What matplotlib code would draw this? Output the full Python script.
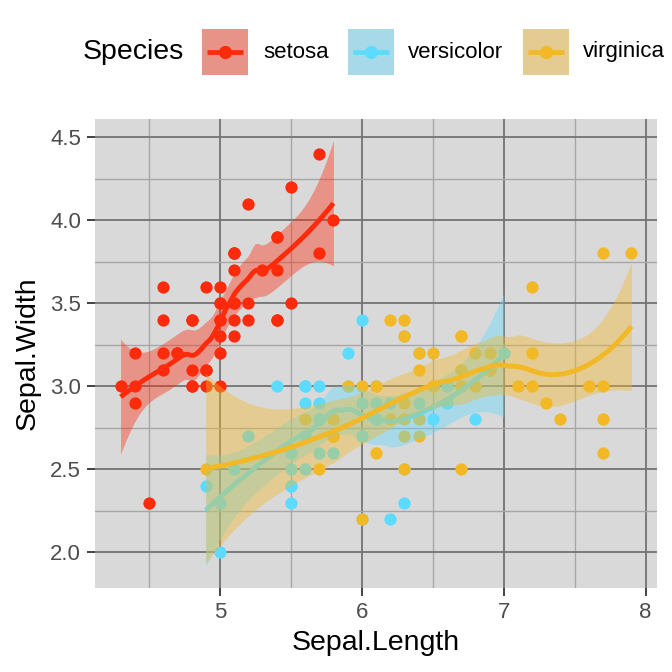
import matplotlib
matplotlib.use("Agg")
import matplotlib.pyplot as plt
from matplotlib.patches import Rectangle
from matplotlib.lines import Line2D
import numpy as np

plt.rcParams['font.family'] = ['Liberation Sans', 'DejaVu Sans']

# iris sepal measurements, by species
species = ["setosa", "versicolor", "virginica"]
colors = ["#FD2B0C", "#5CDBFF", "#F3B825"]

setosa_len = [5.1, 4.9, 4.7, 4.6, 5.0, 5.4, 4.6, 5.0, 4.4, 4.9, 5.4, 4.8, 4.8, 4.3, 5.8, 5.7, 5.4,
              5.1, 5.7, 5.1, 5.4, 5.1, 4.6, 5.1, 4.8, 5.0, 5.0, 5.2, 5.2, 4.7, 4.8, 5.4, 5.2, 5.5,
              4.9, 5.0, 5.5, 4.9, 4.4, 5.1, 5.0, 4.5, 4.4, 5.0, 5.1, 4.8, 5.1, 4.6, 5.3, 5.0]
setosa_wid = [3.5, 3.0, 3.2, 3.1, 3.6, 3.9, 3.4, 3.4, 2.9, 3.1, 3.7, 3.4, 3.0, 3.0, 4.0, 4.4, 3.9,
              3.5, 3.8, 3.8, 3.4, 3.7, 3.6, 3.3, 3.4, 3.0, 3.4, 3.5, 3.4, 3.2, 3.1, 3.4, 4.1, 4.2,
              3.1, 3.2, 3.5, 3.6, 3.0, 3.4, 3.5, 2.3, 3.2, 3.5, 3.8, 3.0, 3.8, 3.2, 3.7, 3.3]
versicolor_len = [7.0, 6.4, 6.9, 5.5, 6.5, 5.7, 6.3, 4.9, 6.6, 5.2, 5.0, 5.9, 6.0, 6.1, 5.6, 6.7, 5.6,
                  5.8, 6.2, 5.6, 5.9, 6.1, 6.3, 6.1, 6.4, 6.6, 6.8, 6.7, 6.0, 5.7, 5.5, 5.5, 5.8, 6.0,
                  5.4, 6.0, 6.7, 6.3, 5.6, 5.5, 5.5, 6.1, 5.8, 5.0, 5.6, 5.7, 5.7, 6.2, 5.1, 5.7]
versicolor_wid = [3.2, 3.2, 3.1, 2.3, 2.8, 2.8, 3.3, 2.4, 2.9, 2.7, 2.0, 3.0, 2.2, 2.9, 2.9, 3.1, 3.0,
                  2.7, 2.2, 2.5, 3.2, 2.8, 2.5, 2.8, 2.9, 3.0, 2.8, 3.0, 2.9, 2.6, 2.4, 2.4, 2.7, 2.7,
                  3.0, 3.4, 3.1, 2.3, 3.0, 2.5, 2.6, 3.0, 2.6, 2.3, 2.7, 3.0, 2.9, 2.9, 2.5, 2.8]
virginica_len = [6.3, 5.8, 7.1, 6.3, 6.5, 7.6, 4.9, 7.3, 6.7, 7.2, 6.5, 6.4, 6.8, 5.7, 5.8, 6.4, 6.5,
                 7.7, 7.7, 6.0, 6.9, 5.6, 7.7, 6.3, 6.7, 7.2, 6.2, 6.1, 6.4, 7.2, 7.4, 7.9, 6.4, 6.3,
                 6.1, 7.7, 6.3, 6.4, 6.0, 6.9, 6.7, 6.9, 5.8, 6.8, 6.7, 6.7, 6.3, 6.5, 6.2, 5.9]
virginica_wid = [3.3, 2.7, 3.0, 2.9, 3.0, 3.0, 2.5, 2.9, 2.5, 3.6, 3.2, 2.7, 3.0, 2.5, 2.8, 3.2, 3.0,
                 3.8, 2.6, 2.2, 3.2, 2.8, 2.8, 2.7, 3.3, 3.2, 2.8, 3.0, 2.8, 3.0, 2.8, 3.8, 2.8, 2.8,
                 2.6, 3.0, 3.4, 3.1, 3.0, 3.1, 3.1, 3.1, 2.7, 3.2, 3.3, 3.0, 2.5, 3.0, 3.4, 3.0]

lengths = [setosa_len, versicolor_len, virginica_len]
widths = [setosa_wid, versicolor_wid, virginica_wid]


def loess_operator(x, x0, span=0.75):
    # local quadratic fit with tricube weights, returns weights on y
    n = len(x)
    q = int(np.floor(n * span))
    d = np.abs(x - x0)
    h = np.sort(d)[q - 1]
    w = np.clip(1 - (d / h) ** 3, 0, None) ** 3
    X = np.column_stack([np.ones(n), x - x0, (x - x0) ** 2])
    XtW = X.T * w
    return np.linalg.solve(XtW @ X, XtW)[0]


def loess_smooth(x, y, n_out=80):
    x = np.asarray(x, float)
    y = np.asarray(y, float)
    xs = np.linspace(x.min(), x.max(), n_out)
    L = np.array([loess_operator(x, v) for v in xs])
    Ld = np.array([loess_operator(x, v) for v in x])
    fit = L @ y
    resid = y - Ld @ y
    M = np.eye(len(x)) - Ld
    MM = M.T @ M
    one_delta = np.trace(MM)
    two_delta = np.trace(MM @ MM)
    sigma = np.sqrt(np.sum(resid ** 2) / one_delta)
    se = sigma * np.sqrt(np.sum(L ** 2, axis=1))
    df = one_delta ** 2 / two_delta
    z = 1.959964
    t = z + (z ** 3 + z) / (4 * df) + (5 * z ** 5 + 16 * z ** 3 + 3 * z) / (96 * df ** 2)
    return xs, fit, fit - t * se, fit + t * se


fig = plt.figure(figsize=(6.72, 6.72), dpi=100)
ax = fig.add_axes([95 / 672, 84 / 672, 562 / 672, 469 / 672])
ax.set_facecolor("#D9D9D9")

# points first, smoothers on top
for i in range(3):
    ax.scatter(lengths[i], widths[i], s=78, color=colors[i], linewidths=0, zorder=2)

for i in range(3):
    xs, fit, lo, hi = loess_smooth(lengths[i], widths[i])
    ax.fill_between(xs, lo, hi, color=colors[i], alpha=0.4, linewidth=0, zorder=3 + 2 * i)
    ax.plot(xs, fit, color=colors[i], lw=3.5, zorder=4 + 2 * i, solid_capstyle="butt")

ax.set_xlim(4.12, 8.08)
ax.set_ylim(1.785, 4.61)
ax.set_xticks([5, 6, 7, 8])
ax.set_yticks([2.0, 2.5, 3.0, 3.5, 4.0, 4.5])
ax.set_yticklabels(["2.0", "2.5", "3.0", "3.5", "4.0", "4.5"])
ax.set_xticks([4.5, 5.5, 6.5, 7.5], minor=True)
ax.set_yticks([2.25, 2.75, 3.25, 3.75, 4.25], minor=True)
ax.grid(which="major", color="#737373", lw=1.3, zorder=1)
ax.grid(which="minor", color="#A6A6A6", lw=1.0, zorder=1)
ax.set_axisbelow(True)
ax.tick_params(which="major", length=6, width=1.3, color="#333333",
               labelsize=16, labelcolor="#4D4D4D", pad=4)
ax.tick_params(which="minor", length=0)
for s in ax.spines.values():
    s.set_visible(False)

ax.set_xlabel("Sepal.Length", fontsize=20.5, labelpad=5)
ax.set_ylabel("Sepal.Width", fontsize=20.5, labelpad=7)

# legend on top, drawn in pixel positions of the figure
def fx(px):
    return px / 672


def fy(py):
    return 1 - py / 672


fig.text(fx(83), fy(52), "Species", fontsize=20.5, va="center", ha="left")
box_left = [202, 348, 523]
text_left = [263, 408, 583]
for i in range(3):
    x0 = box_left[i]
    fig.add_artist(Rectangle((fx(x0), fy(75)), 46 / 672, 46 / 672,
                             transform=fig.transFigure, facecolor="#D9D9D9", edgecolor="none"))
    fig.add_artist(Rectangle((fx(x0), fy(75)), 46 / 672, 46 / 672,
                             transform=fig.transFigure, facecolor=colors[i], alpha=0.4,
                             edgecolor="none"))
    fig.add_artist(Line2D([fx(x0 + 5), fx(x0 + 41)], [fy(52), fy(52)],
                          transform=fig.transFigure, color=colors[i], lw=3.4,
                          solid_capstyle="butt"))
    fig.add_artist(Line2D([fx(x0 + 23)], [fy(52)], transform=fig.transFigure,
                          color=colors[i], marker="o", markersize=9.5, markeredgewidth=0))
    fig.text(fx(text_left[i]), fy(52), species[i], fontsize=16, va="center", ha="left")

fig.savefig("out.png", dpi=100)
